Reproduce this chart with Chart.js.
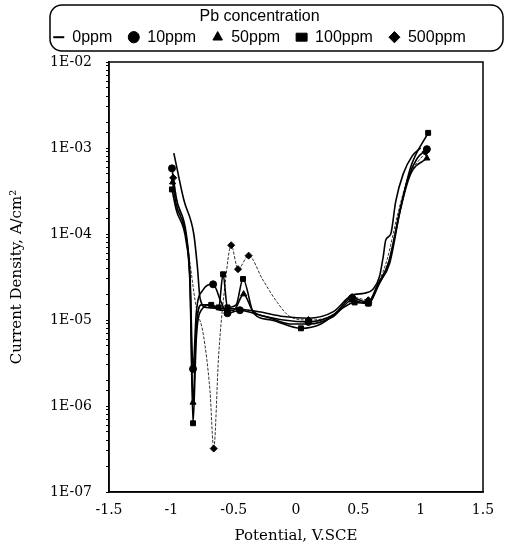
<!DOCTYPE html>
<html>
<head>
<meta charset="utf-8">
<script src="https://cdn.jsdelivr.net/npm/chart.js@4/dist/chart.umd.min.js"></script>
<style>
html,body{margin:0;padding:0;background:#fff;}
#wrap{width:509px;height:549px;}
</style>
</head>
<body>
<div id="wrap"><canvas id="c" width="509" height="549"></canvas></div>
<script>
// ---- data (potential V.SCE, current density A/cm2) ----
const seriesNames = ['0ppm', '10ppm', '50ppm', '100ppm', '500ppm'];

const potential0 = [-0.98, -0.9, -0.82, -0.79, -0.77, -0.72, -0.5, -0.3, -0.1, 0.1, 0.3, 0.45, 0.55, 0.62, 0.67, 0.70, 0.72, 0.76, 0.80, 0.86, 0.93, 1.0];
const current0   = [8.7e-4, 2.5e-4, 1.0e-4, 4.0e-5, 1.8e-5, 1.4e-5, 1.35e-5, 1.25e-5, 1.1e-5, 1.05e-5, 1.25e-5, 1.95e-5, 2.05e-5, 2.3e-5, 3.2e-5, 5.5e-5, 8.5e-5, 1.0e-4, 2.4e-4, 5.0e-4, 8.0e-4, 1.0e-3];

const potential10 = [-0.995, -0.96, -0.88, -0.85, -0.826, -0.8, -0.75, -0.665, -0.6, -0.55, -0.45, -0.3, -0.1, 0.1, 0.3, 0.45, 0.58, 0.65, 0.75, 0.83, 0.9, 0.97, 1.05];
const current10   = [5.8e-4, 2.6e-4, 1.0e-4, 3.2e-5, 2.7e-6, 1.2e-5, 2.2e-5, 2.6e-5, 1.6e-5, 1.2e-5, 1.3e-5, 1.15e-5, 1.0e-5, 9.5e-6, 1.15e-5, 1.8e-5, 1.6e-5, 2.5e-5, 5.0e-5, 1.8e-4, 4.5e-4, 7.5e-4, 9.7e-4];

const potential50 = [-0.99, -0.96, -0.88, -0.85, -0.826, -0.8, -0.76, -0.7, -0.6, -0.5, -0.42, -0.35, -0.2, -0.05, 0.1, 0.3, 0.45, 0.58, 0.66, 0.75, 0.84, 0.92, 1.05];
const current50   = [4.0e-4, 2.2e-4, 9.0e-5, 2.8e-5, 1.1e-6, 8.0e-6, 1.5e-5, 1.5e-5, 1.3e-5, 1.3e-5, 2.0e-5, 1.3e-5, 1.05e-5, 9.0e-6, 9.0e-6, 1.1e-5, 1.7e-5, 1.55e-5, 2.6e-5, 4.5e-5, 2.0e-4, 5.0e-4, 7.6e-4];

const potential100 = [-0.995, -0.96, -0.88, -0.85, -0.826, -0.8, -0.76, -0.68, -0.62, -0.585, -0.55, -0.48, -0.425, -0.34, -0.2, 0.04, 0.2, 0.35, 0.47, 0.58, 0.66, 0.74, 0.84, 0.92, 1.06];
const current100   = [3.3e-4, 1.9e-4, 8.0e-5, 2.5e-5, 6.3e-7, 6.0e-6, 1.3e-5, 1.5e-5, 1.4e-5, 3.4e-5, 1.4e-5, 1.5e-5, 3.0e-5, 1.2e-5, 1.0e-5, 8.0e-6, 9.0e-6, 1.3e-5, 1.6e-5, 1.55e-5, 2.5e-5, 4.5e-5, 2.0e-4, 6.0e-4, 1.5e-3];

const potential500 = [-0.985, -0.95, -0.88, -0.8, -0.745, -0.69, -0.66, -0.62, -0.57, -0.52, -0.465, -0.38, -0.27, -0.15, -0.05, 0.1, 0.3, 0.45, 0.58, 0.66, 0.73, 0.82, 0.9, 1.04];
const current500   = [4.5e-4, 2.3e-4, 9.0e-5, 1.4e-5, 7.0e-6, 1.5e-6, 3.2e-7, 4.0e-6, 2.5e-5, 7.4e-5, 3.9e-5, 5.6e-5, 3.0e-5, 1.6e-5, 1.1e-5, 1.0e-5, 1.15e-5, 1.85e-5, 1.7e-5, 2.7e-5, 5.0e-5, 1.8e-4, 4.5e-4, 9.0e-4];

const xTicks = [-1.5, -1, -0.5, 0, 0.5, 1, 1.5];
const yTickLabels = ['1E-07', '1E-06', '1E-05', '1E-04', '1E-03', '1E-02'];

// ---- build ----
function pts(xs, ys) { return xs.map((x, i) => ({x: x, y: ys[i]})); }

function markerRadius(ctx) {
  const d = ctx.dataset.data, i = ctx.dataIndex;
  if (i === 0 || i === d.length - 1) return 3.5;
  const a = d[i - 1].y, b = d[i].y, c = d[i + 1].y;
  return ((b - a) * (b - c) > 0) ? 3.5 : 0;
}

const styles = [
  {pointStyle: 'line', radius: 0, width: 1.6, color: '#000', dash: [], pbw: 2},
  {pointStyle: 'circle', radius: markerRadius, width: 1.6, color: '#000', dash: [], pbw: 1},
  {pointStyle: 'triangle', radius: markerRadius, width: 1.6, color: '#000', dash: [], pbw: 1},
  {pointStyle: 'rect', radius: markerRadius, width: 1.6, color: '#000', dash: [], pbw: 1},
  {pointStyle: 'rectRot', radius: markerRadius, width: 1.0, color: '#333', dash: [3, 1.5], pbw: 1}
];
const allData = [pts(potential0, current0), pts(potential10, current10), pts(potential50, current50), pts(potential100, current100), pts(potential500, current500)];

const datasets = seriesNames.map((n, k) => ({
  label: n,
  data: allData[k],
  showLine: true,
  borderColor: styles[k].color,
  backgroundColor: '#000',
  borderWidth: styles[k].width,
  borderDash: styles[k].dash,
  pointStyle: styles[k].pointStyle,
  pointRadius: styles[k].radius,
  pointHoverRadius: 0,
  pointBorderWidth: styles[k].pbw,
  pointBorderColor: '#000',
  pointBackgroundColor: '#000',
  cubicInterpolationMode: 'monotone'
}));

const legendHeightPlugin = {
  id: 'legendHeight',
  beforeLayout(chart) {
    const lg = chart.legend;
    if (lg && !lg._fixedFit) {
      const orig = lg.fit.bind(lg);
      lg.fit = function() { orig(); this.height = 62; };
      lg._fixedFit = true;
    }
  },
  afterLayout(chart) {
    const lg = chart.legend;
    if (lg) { lg.left += 18; lg.right += 18; }
  }
};

const framePlugin = {
  id: 'frame',
  afterDraw(chart) {
    const {ctx, chartArea: a} = chart;
    ctx.save();
    ctx.strokeStyle = '#000';
    ctx.lineWidth = 1.5;
    ctx.strokeRect(a.left, a.top, a.right - a.left, a.bottom - a.top);
    const lg = chart.legend;
    if (lg) {
      const x = 50, w = chart.width - 56, y = lg.top + 5, h = 46;
      ctx.beginPath();
      if (ctx.roundRect) ctx.roundRect(x, y, w, h, 12); else ctx.rect(x, y, w, h);
      ctx.stroke();
    }
    ctx.restore();
  }
};

const serif = 'DejaVu Serif';
new Chart(document.getElementById('c'), {
  type: 'scatter',
  data: {datasets: datasets},
  plugins: [legendHeightPlugin, framePlugin],
  options: {
    responsive: false,
    animation: false,
    devicePixelRatio: 1,
    layout: {padding: {left: 0, right: 26, top: 0, bottom: 0}},
    plugins: {
      tooltip: {enabled: false},
      legend: {
        display: true,
        position: 'top',
        title: {display: true, text: 'Pb concentration', color: '#000', padding: {top: 9, bottom: -15},
                font: {family: 'Liberation Sans', size: 16}},
        labels: {
          usePointStyle: true,
          pointStyleWidth: 11,
          boxWidth: 9, boxHeight: 8,
          padding: 16,
          color: '#000',
          font: {family: 'Liberation Sans', size: 16, lineHeight: 1}
        }
      }
    },
    scales: {
      x: {
        type: 'linear', min: -1.5, max: 1.5,
        afterBuildTicks(s) { s.ticks = xTicks.map(v => ({value: v})); },
        afterFit(s) { s.height = 57; },
        grid: {display: false, drawTicks: false},
        border: {display: true, color: '#000', width: 1.5},
        ticks: {color: '#000', padding: 10, font: {family: serif, size: 14},
                callback: v => String(v)},
        title: {display: true, text: 'Potential, V.SCE', color: '#000', padding: {top: 4},
                font: {family: serif, size: 15}}
      },
      y: {
        type: 'logarithmic', min: 1e-7, max: 1e-2,
        afterFit(s) { s.width = 109; },
        grid: {display: true, drawOnChartArea: false, tickLength: 3, color: '#000', tickColor: '#000'},
        border: {display: true, color: '#000', width: 1.5},
        ticks: {
          color: '#000', padding: 14, autoSkip: false, font: {family: serif, size: 14},
          callback: function(v) {
            const e = Math.log10(v);
            if (Math.abs(e - Math.round(e)) < 1e-9) return yTickLabels[Math.round(e) + 7];
            return '';
          }
        },
        title: {display: true, text: 'Current Density, A/cm²', color: '#000', padding: {top: 8, bottom: 4},
                font: {family: serif, size: 15}}
      }
    }
  }
});
</script>
</body>
</html>
